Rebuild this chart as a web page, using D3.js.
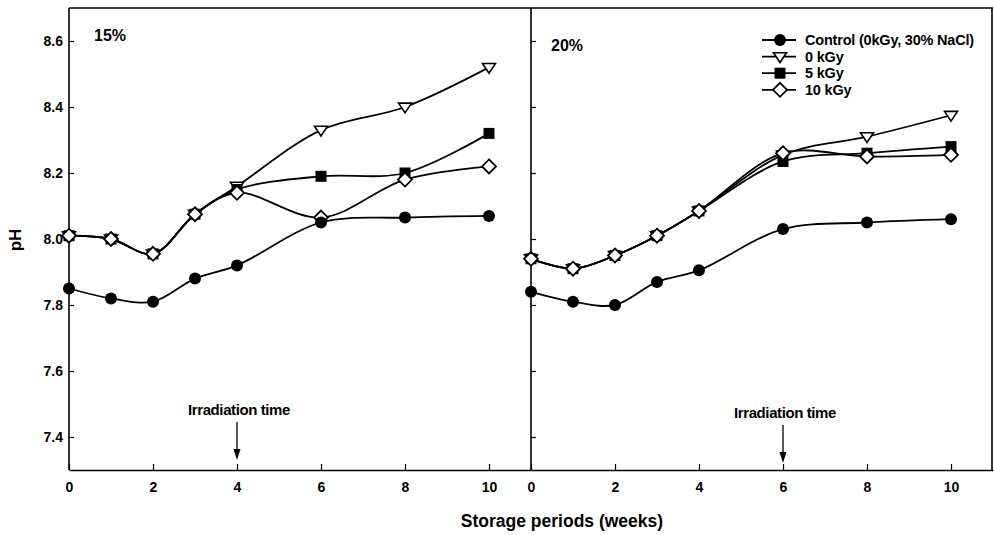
<!DOCTYPE html>
<html>
<head>
<meta charset="utf-8">
<script src="https://cdn.jsdelivr.net/npm/d3@7"></script>
<style>
html,body{margin:0;padding:0;background:#fff;}
text{font-family:"Liberation Sans",Arial,Helvetica,sans-serif;font-weight:bold;fill:#000;}
</style>
</head>
<body>
<svg id="chart" width="994" height="535"></svg>
<script>
// ---- data ----
const weeks = [0, 1, 2, 3, 4, 6, 8, 10];
const panels = ["15%", "20%"];
const irradiationWeek = [4, 6];
const seriesNames = ["Control (0kGy, 30% NaCl)", "0 kGy", "5 kGy", "10 kGy"];
const markers = ["circle", "triangle", "square", "diamond"];
// 15% panel
const control15 = [7.85, 7.82, 7.81, 7.88, 7.92, 8.05, 8.065, 8.07];
const kGy0_15   = [8.01, 8.00, 7.955, 8.075, 8.16, 8.33, 8.40, 8.52];
const kGy5_15   = [8.01, 8.00, 7.955, 8.075, 8.15, 8.19, 8.20, 8.32];
const kGy10_15  = [8.01, 8.00, 7.955, 8.075, 8.14, 8.065, 8.18, 8.22];
// 20% panel
const control20 = [7.84, 7.81, 7.80, 7.87, 7.905, 8.03, 8.05, 8.06];
const kGy0_20   = [7.94, 7.91, 7.95, 8.01, 8.085, 8.255, 8.31, 8.375];
const kGy5_20   = [7.94, 7.91, 7.95, 8.01, 8.085, 8.235, 8.26, 8.28];
const kGy10_20  = [7.94, 7.91, 7.95, 8.01, 8.085, 8.26, 8.25, 8.255];
const yTicks = [7.4, 7.6, 7.8, 8.0, 8.2, 8.4, 8.6];
const xTicks = [0, 2, 4, 6, 8, 10];

const panelData = [
  [control15, kGy0_15, kGy5_15, kGy10_15],
  [control20, kGy0_20, kGy5_20, kGy10_20]
];

// ---- layout ----
const svg = d3.select("#chart");
const plotTop = 8, plotBottom = 470;
const panelX = [69, 531];
const panelW = 462;

const y = d3.scaleLinear().domain([7.3, 8.7]).range([plotBottom, plotTop]);

const line = d3.line().curve(d3.curveCatmullRom.alpha(0.5));

function drawMarker(g, type, cx, cy) {
  if (type === "circle") {
    g.append("circle").attr("cx", cx).attr("cy", cy).attr("r", 6).attr("fill", "#000");
  } else if (type === "triangle") {
    const s = 6.5;
    g.append("path").attr("d", `M${cx - s},${cy - s * 0.6}L${cx + s},${cy - s * 0.6}L${cx},${cy + s * 0.9}Z`)
      .attr("fill", "#fff").attr("stroke", "#000").attr("stroke-width", 1.6);
  } else if (type === "square") {
    g.append("rect").attr("x", cx - 5.5).attr("y", cy - 5.5).attr("width", 11).attr("height", 11).attr("fill", "#000");
  } else {
    const s = 7;
    g.append("path").attr("d", `M${cx},${cy - s}L${cx + s},${cy}L${cx},${cy + s}L${cx - s},${cy}Z`)
      .attr("fill", "#fff").attr("stroke", "#000").attr("stroke-width", 1.8);
  }
}

const tickFont = "Liberation Sans, Arial, sans-serif";

panels.forEach((label, p) => {
  const x = d3.scaleLinear().domain([0, 11]).range([panelX[p], panelX[p] + panelW]);
  const g = svg.append("g");

  // frame
  g.append("line").attr("x1", panelX[p]).attr("x2", panelX[p]).attr("y1", plotTop).attr("y2", plotBottom)
    .attr("stroke", "#000").attr("stroke-width", 1.6);
  g.append("line").attr("x1", panelX[p]).attr("x2", panelX[p] + panelW).attr("y1", plotTop).attr("y2", plotTop)
    .attr("stroke", "#000").attr("stroke-width", 1.6);
  if (p === 1) {
    g.append("line").attr("x1", panelX[p] + panelW - 1).attr("x2", panelX[p] + panelW - 1).attr("y1", plotTop).attr("y2", plotBottom)
      .attr("stroke", "#000").attr("stroke-width", 1.6);
  }

  // x axis (ticks inward)
  const xAxis = d3.axisBottom(x).tickValues(xTicks).tickSizeInner(-6).tickSizeOuter(0).tickPadding(12).tickFormat(d3.format("d"));
  const xg = g.append("g").attr("transform", `translate(0,${plotBottom})`).call(xAxis);
  xg.select(".domain").attr("stroke", "#000").attr("stroke-width", 1.6);
  xg.selectAll(".tick line").attr("stroke", "#000").attr("stroke-width", 1.2);
  xg.selectAll(".tick text").style("font-size", "14px").style("font-weight", "bold").style("font-family", tickFont);

  // y axis (ticks inward)
  const yAxis = d3.axisLeft(y).tickValues(yTicks).tickSizeInner(-5).tickSizeOuter(0).tickPadding(6)
    .tickFormat(p === 0 ? d3.format(".1f") : () => "");
  const yg = g.append("g").attr("transform", `translate(${panelX[p]},0)`).call(yAxis);
  yg.select(".domain").remove();
  yg.selectAll(".tick line").attr("stroke", "#000").attr("stroke-width", 1.2);
  yg.selectAll(".tick text").style("font-size", "14px").style("font-weight", "bold").style("font-family", tickFont);

  // panel label
  g.append("text").attr("x", p === 0 ? 94 : 551).attr("y", p === 0 ? 41 : 51)
    .style("font-size", "16px").text(label);

  // irradiation annotation
  const ix = x(irradiationWeek[p]);
  const ty = p === 0 ? 415 : 418;
  g.append("text").attr("x", ix + 2).attr("y", ty).attr("text-anchor", "middle")
    .style("font-size", "15px").style("letter-spacing", "-0.4px").text("Irradiation time");
  g.append("line").attr("x1", ix).attr("x2", ix).attr("y1", ty + 7).attr("y2", ty + 42)
    .attr("stroke", "#000").attr("stroke-width", 1.3);
  g.append("path").attr("d", `M${ix - 3.5},${ty + 34}L${ix + 3.5},${ty + 34}L${ix},${ty + 45}Z`).attr("fill", "#000");

  // series lines
  [3, 2, 1, 0].forEach(s => {
    const vals = panelData[p][s];
    const pts = weeks.map((w, i) => [x(w), y(vals[i])]);
    g.append("path").attr("d", line(pts)).attr("fill", "none").attr("stroke", "#000").attr("stroke-width", 1.8);
  });
  // markers: triangles, squares, then diamonds on top, control last
  [1, 2, 3, 0].forEach(s => {
    const vals = panelData[p][s];
    weeks.forEach((w, i) => drawMarker(g, markers[s], x(w), y(vals[i])));
  });
});

// axis titles
svg.append("text").attr("x", 562).attr("y", 527).attr("text-anchor", "middle")
  .style("font-size", "17.5px").text("Storage periods (weeks)");
svg.append("text").attr("transform", "translate(21,240) rotate(-90)").attr("text-anchor", "middle")
  .style("font-size", "17px").text("pH");

// legend
const legend = svg.append("g");
seriesNames.forEach((name, i) => {
  const ly = 40 + i * 16.6;
  legend.append("line").attr("x1", 762).attr("x2", 796).attr("y1", ly).attr("y2", ly)
    .attr("stroke", "#000").attr("stroke-width", 1.8);
  drawMarker(legend, markers[i], 780, ly);
  legend.append("text").attr("x", 805).attr("y", ly + 5).style("font-size", "14.5px")
    .style("letter-spacing", "-0.2px").text(name);
});
</script>
</body>
</html>
